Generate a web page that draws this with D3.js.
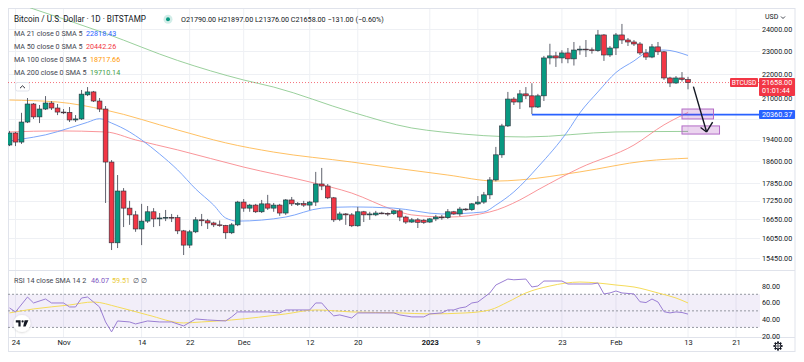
<!DOCTYPE html>
<html>
<head>
<meta charset="utf-8">
<script src="https://cdn.jsdelivr.net/npm/d3@7"></script>
<style>
    body { margin: 0; background: #fff; }
    svg { display: block; font-family: Roboto, "Noto Sans", sans-serif; }
</style>
</head>
<body>
<svg id="chart" width="804" height="362"></svg>
<script>
// daily candles, Oct 23 2022 .. Feb 13 2023 (BITSTAMP BTCUSD)
var firstDay = "2022-10-23",
    lastDay = "2023-02-13";

var opens = [19200,19650,19310,20070,20780,20270,20580,20820,20620,20460,20450,20150,20190,21150,21270,20900,20580,18580,15900,17570,
    17000,16780,16330,16580,16880,16650,16680,16700,16690,16270,15830,16240,16620,16590,16520,16460,16440,16210,16460,17200,
    17000,17100,16880,17140,17000,17100,16840,17270,17140,17150,17100,17200,17810,17740,17340,16640,16810,16780,16430,16880,
    16780,16780,16840,16830,16820,16910,16710,16550,16620,16610,16550,16650,16710,16690,16880,16810,16970,16950,17140,17200,
    17440,17950,18840,19920,20980,20860,21190,21110,20660,21110,22710,22800,22710,22930,22670,23060,23100,23070,23030,23740,
    22840,23150,23740,23510,23420,23330,22930,22750,23200,22980,21850,21640,21850,21790];
var highs = [19730,19690,20430,21020,20820,20740,21100,20900,20780,20580,20660,20340,21350,21470,21310,21020,20700,18650,18120,17670,
    17240,16910,17140,17070,17000,16840,16940,16810,16780,16300,16300,16710,16810,16650,16560,16600,16460,16520,17240,17300,
    17140,17140,17270,17440,17170,17140,17300,17370,17200,17240,17240,18230,18370,17810,17370,16880,16840,16840,17040,16910,
    16880,16910,16880,16860,16940,16970,16750,16680,16680,16650,16680,16780,16780,16970,16910,17040,17000,17170,17400,17540,
    18050,19130,20000,21270,21060,21350,21470,21630,21190,22800,23340,22980,23050,23150,23420,23250,23510,23170,23970,23780,
    23240,23830,24250,23600,23510,23420,23100,23330,23420,23020,21900,21930,22100,21897];
var lows = [19160,19160,19240,20030,20190,20030,20540,20540,20340,20380,20070,20070,20150,21100,20860,20460,17170,15680,15740,16390,
    16460,16240,15830,16520,16390,16420,16580,16550,16170,15530,15740,16200,16420,16330,16390,16400,16020,16170,16420,16880,
    16880,16840,16840,16940,16880,16750,16780,17070,17070,17040,16940,17070,17600,17300,16550,16580,16460,16390,16400,16550,
    16620,16740,16800,16740,16780,16580,16490,16520,16360,16490,16520,16580,16620,16650,16780,16740,16910,16910,17100,17140,
    17300,17900,18730,19880,20740,20580,20980,20380,20620,20900,22430,22320,22480,22480,22380,22850,22750,22900,22980,22580,
    22750,22840,23330,23240,23240,22840,22620,22700,22840,21770,21470,21600,21700,21376];
var closes = [19650,19310,20070,20780,20270,20580,20820,20620,20460,20450,20150,20190,21180,21270,20900,20580,18580,15900,17570,17000,
    16780,16330,16580,16880,16650,16680,16700,16690,16270,15830,16240,16620,16590,16520,16460,16440,16210,16460,17200,17000,
    17100,16880,17140,17000,17100,16840,17270,17140,17150,17100,17200,17810,17740,17340,16620,16810,16780,16430,16880,16780,
    16810,16840,16830,16820,16910,16710,16550,16620,16540,16540,16650,16710,16690,16880,16810,16970,16950,17140,17200,17440,
    17950,18840,19920,20980,20860,21190,21110,20660,21110,22710,22800,22710,22930,22670,23060,23100,23070,23030,23740,22840,
    23150,23740,23510,23420,23330,22930,22750,23200,22980,21850,21640,21850,21790,21658];

// moving averages (day index since Oct 23 -> value)
var ma21At = [0,2,6,10,13,15,17,20,22,25,28,31,34,36,38,46,52,57,64,72,79,81,84,88,93,95,98,101,104,106,109,113];
var ma21Vals = [19350,19420,19580,19840,20060,20200,20030,19690,19390,18870,18300,17640,17100,16680,16580,16710,17000,17040,17000,16810,
    16875,17100,17540,18400,19730,20430,21270,22080,22580,22930,23060,22818.43];
var ma50At = [0,8,16,21,28,39,50,57,64,67,73,80,85,88,95,104,109,113];
var ma50Vals = [19690,19730,19690,19390,19020,18400,17880,17500,16940,16780,16710,16875,17270,17610,18370,19200,19960,20442.26];
var ma100At = [0,8,16,28,36,44,57,64,73,81,85,95,106,113];
var ma100Vals = [20940,20860,20540,19765,19280,18940,18580,18370,18120,17910,17950,18230,18620,18717.66];
var ma200At = [0,4,10,16,28,39,44,57,67,72,86,101,113];
var ma200Vals = [25380,24960,24390,23810,22600,21765,21470,20460,19840,19690,19500,19690,19710.14];

// RSI 14 and its SMA 14
var rsiAt = [0,1,3,4,6,7,9,10,11,12,13,14,15,16,17,18,20,21,23,25,27,29,31,33,36,37,38,41,43,45,46,50,51,52,53,54,55,57,58,61,
    64,65,67,69,70,72,73,74,75,76,77,78,80,81,83,84,86,87,88,89,92,93,94,97,98,99,100,101,102,104,105,106,107,108,109,110,111,112,113];
var rsiVals = [53.5,48.7,66.7,59.5,64.3,59.5,59.5,54.7,54.7,65.5,66.7,60.7,54.7,36.6,24.6,37.8,36.6,34.2,37.8,36.6,
    36.6,31.8,40.2,39,37.8,42.7,48.7,48.7,48.7,47.5,51.1,51.1,59.5,59.5,51.1,43.9,45.1,41.4,47.5,47.5,
    47.5,45.1,42.7,42.7,46.3,47.5,51.1,51.1,53.5,54.7,59.5,60.7,71.6,81.2,88.4,87.5,88.4,78.8,80,86,
    86,82.4,82.4,82.4,83.6,70.4,71.6,74,71.6,70.4,61,60,64.3,60.7,49,47.5,48.7,48,46.07];
var rsiMaAt = [0,4,10,14,18,23,29,32,37,46,51,57,65,70,76,80,83,86,90,95,98,101,104,108,111,113];
var rsiMaVals = [47.5,52.3,57.1,60.7,54.7,45.1,35.4,36.6,39,46.3,51.1,48.7,47.5,46.3,47.5,51.1,60.7,71.6,80,84.8,83.6,81.2,78.8,71.6,65.5,59.51];

// axes
var priceTicks = [24000,23000,22000,21000,19400,18600,17850,17250,16650,16050,15450];
var priceGrid = [24000,23000,22000,21000,20200,19400,18600,17850,17250,16650,16050,15450];
var rsiTicks = [80,60,40,20];
var rsiLevels = [70,50,30];
var timeTicks = ["2022-10-24","2022-11-01","2022-11-14","2022-11-22","2022-12-01","2022-12-12","2022-12-20",
    "2023-01-01","2023-01-09","2023-01-23","2023-02-01","2023-02-13","2023-02-21"];
var timeLabels = ["24","Nov","14","22","Dec","12","20","2023","9","23","Feb","13","21"];

// drawings
var lastPrice = 21658, hLinePrice = 20360.37, hLineFrom = 87;
var boxFrom = [112,112], boxTo = [117.25,118.25], boxTop = [20580,19920], boxBottom = [20190,19610];
var arrowAt = [113.9,116.1], arrowPrice = [21490,19690];
var wingAt = [115.1,117.1], wingPrice = [19860,20070];

(function() {
    var svg = d3.select("#chart");
    var plotL = 8, plotR = 760, mainT = 8, mainB = 270, rsiT = 271, rsiB = 337;
    var green = "#089981", red = "#F23645", text = "#131722", grid = "#EEF0F4";

    var day0 = d3.utcParse("%Y-%m-%d")(firstDay);
    function dayDate(i) { return new Date(day0.getTime() + i * 864e5); }

    var x = d3.scaleUtc()
        .domain([day0, d3.utcParse("%Y-%m-%d")(lastDay)])
        .range([9.5, 688]);
    var y = d3.scaleLog().domain([15450, 24000]).range([257.7, 29.3]);
    var ry = d3.scaleLinear().domain([20, 80]).range([335.7, 286]);

    var candles = closes.map(function(c, i) {
        return { date: dayDate(i), o: opens[i], h: highs[i], l: lows[i], c: c };
    });

    var defs = svg.append("defs");
    defs.append("clipPath").attr("id", "mainClip").append("rect")
        .attr("x", plotL).attr("y", mainT).attr("width", plotR - plotL).attr("height", mainB - mainT);
    defs.append("clipPath").attr("id", "rsiClip").append("rect")
        .attr("x", plotL).attr("y", rsiT).attr("width", plotR - plotL).attr("height", rsiB - rsiT);
    var shadow = defs.append("filter").attr("id", "shadow").attr("x", "-50%").attr("y", "-50%")
        .attr("width", "200%").attr("height", "200%");
    shadow.append("feDropShadow").attr("dx", 0).attr("dy", 0.5).attr("stdDeviation", 1)
        .attr("flood-color", "#000").attr("flood-opacity", 0.2);

    // grid
    var tickDates = timeTicks.map(d3.utcParse("%Y-%m-%d"));
    svg.append("g").selectAll("line").data(tickDates).join("line")
        .attr("x1", d => x(d)).attr("x2", d => x(d))
        .attr("y1", mainT).attr("y2", rsiB)
        .attr("stroke", grid);
    svg.append("g").selectAll("line").data(priceGrid).join("line")
        .attr("x1", plotL).attr("x2", plotR)
        .attr("y1", d => Math.round(y(d)) + 0.5).attr("y2", d => Math.round(y(d)) + 0.5)
        .attr("stroke", grid);

    // frame and pane separators
    svg.append("rect").attr("x", 8.5).attr("y", 8.5).attr("width", 786.5).attr("height", 343)
        .attr("fill", "none").attr("stroke", "#E0E3EB");
    svg.append("line").attr("x1", 8).attr("x2", 795).attr("y1", 270.5).attr("y2", 270.5).attr("stroke", "#E0E3EB");
    svg.append("line").attr("x1", 8).attr("x2", 795).attr("y1", 337.5).attr("y2", 337.5).attr("stroke", "#E0E3EB");

    var main = svg.append("g").attr("clip-path", "url(#mainClip)");

    // moving averages
    var maLine = d3.line().curve(d3.curveMonotoneX).x(d => x(d[0])).y(d => y(d[1]));
    function pairs(at, vals) { return at.map((a, i) => [dayDate(a), vals[i]]); }
    [[ma200At, ma200Vals, "#8FCB91"], [ma100At, ma100Vals, "#FFB951"], [ma50At, ma50Vals, "#F8898E"], [ma21At, ma21Vals, "#6F9CF8"]]
        .forEach(function(s) {
            main.append("path").datum(pairs(s[0], s[1]))
                .attr("d", maLine).attr("fill", "none")
                .attr("stroke", s[2]).attr("stroke-width", 1).attr("stroke-opacity", 0.9);
        });

    // last price line
    main.append("line").attr("x1", plotL).attr("x2", plotR)
        .attr("y1", y(lastPrice)).attr("y2", y(lastPrice))
        .attr("stroke", red).attr("stroke-dasharray", "1,2").attr("stroke-opacity", 0.7);

    // candles
    main.append("g").selectAll("line").data(candles).join("line")
        .attr("x1", d => x(d.date)).attr("x2", d => x(d.date))
        .attr("y1", d => y(d.h)).attr("y2", d => y(d.l))
        .attr("stroke", "#60636e").attr("stroke-width", 1);
    main.append("g").selectAll("rect").data(candles).join("rect")
        .attr("x", d => x(d.date) - 2.4)
        .attr("width", 4.8)
        .attr("y", d => y(Math.max(d.o, d.c)))
        .attr("height", d => Math.max(0.8, Math.abs(y(d.o) - y(d.c))))
        .attr("fill", d => d.c >= d.o ? green : red)
        .attr("stroke", "#2a2e39").attr("stroke-width", 0.6);

    // horizontal level line
    main.append("line").attr("x1", x(dayDate(hLineFrom))).attr("x2", plotR)
        .attr("y1", y(hLinePrice)).attr("y2", y(hLinePrice))
        .attr("stroke", "#2962FF").attr("stroke-width", 1.6);

    // target boxes
    main.append("g").selectAll("rect").data(boxFrom).join("rect")
        .attr("x", (d, i) => x(dayDate(d)))
        .attr("width", (d, i) => x(dayDate(boxTo[i])) - x(dayDate(d)))
        .attr("y", (d, i) => y(boxTop[i]))
        .attr("height", (d, i) => y(boxBottom[i]) - y(boxTop[i]))
        .attr("fill", "rgba(156,39,176,0.2)").attr("stroke", "#B36BC6").attr("stroke-width", 1);

    // arrow
    var tip = [x(dayDate(arrowAt[1])), y(arrowPrice[1])];
    main.append("line").attr("x1", x(dayDate(arrowAt[0]))).attr("y1", y(arrowPrice[0]))
        .attr("x2", tip[0]).attr("y2", tip[1]).attr("stroke", "#131722").attr("stroke-width", 1.4);
    wingAt.forEach(function(w, i) {
        main.append("line").attr("x1", x(dayDate(w))).attr("y1", y(wingPrice[i]))
            .attr("x2", tip[0]).attr("y2", tip[1]).attr("stroke", "#131722").attr("stroke-width", 1.4);
    });

    // RSI pane
    var rsi = svg.append("g").attr("clip-path", "url(#rsiClip)");
    rsi.append("rect").attr("x", plotL).attr("width", plotR - plotL)
        .attr("y", ry(70)).attr("height", ry(30) - ry(70))
        .attr("fill", "rgba(126,87,194,0.1)");
    rsi.selectAll("line.level").data(rsiLevels).join("line")
        .attr("class", "level")
        .attr("x1", plotL).attr("x2", plotR)
        .attr("y1", d => ry(d)).attr("y2", d => ry(d))
        .attr("stroke", "#9598A1").attr("stroke-dasharray", "2,2");
    rsi.append("path").datum(pairs(rsiMaAt, rsiMaVals))
        .attr("d", d3.line().curve(d3.curveMonotoneX).x(d => x(d[0])).y(d => ry(d[1]))).attr("fill", "none")
        .attr("stroke", "#F5DC5A").attr("stroke-width", 1);
    rsi.append("path").datum(pairs(rsiAt, rsiVals))
        .attr("d", d3.line().x(d => x(d[0])).y(d => ry(d[1]))).attr("fill", "none")
        .attr("stroke", "#9B7FD4").attr("stroke-width", 1);

    // price axis
    var yAxis = svg.append("g").attr("transform", "translate(762,0)")
        .call(d3.axisRight(y).tickValues(priceTicks).tickFormat(d3.format(".2f")).tickSize(0).tickPadding(0));
    var rAxis = svg.append("g").attr("transform", "translate(762,0)")
        .call(d3.axisRight(ry).tickValues(rsiTicks).tickFormat(d3.format(".2f")).tickSize(0).tickPadding(0));
    [yAxis, rAxis].forEach(function(a) {
        a.select(".domain").remove();
        a.selectAll("text").attr("fill", text).attr("font-size", 7.2).attr("font-family", "Roboto");
    });

    // time axis
    var xAxis = svg.append("g").attr("transform", "translate(0,340)")
        .call(d3.axisBottom(x).tickValues(tickDates).tickFormat((d, i) => timeLabels[i]).tickSize(0).tickPadding(0));
    xAxis.select(".domain").remove();
    xAxis.selectAll("text").attr("fill", text).attr("font-size", 7.5).attr("font-family", "Roboto")
        .attr("font-weight", (d, i) => timeLabels[i] === "2023" ? "bold" : null);

    // price labels on the axis
    var ly = y(lastPrice);
    svg.append("rect").attr("x", 730).attr("y", ly - 4.5).attr("width", 28).attr("height", 9).attr("rx", 1).attr("fill", red);
    svg.append("text").attr("x", 744).attr("y", ly + 2.4).attr("text-anchor", "middle")
        .attr("font-size", 6.6).attr("fill", "#fff").text("BTCUSD");
    svg.append("rect").attr("x", 759).attr("y", ly - 4.5).attr("width", 36).attr("height", 18).attr("rx", 1).attr("fill", red);
    svg.append("text").attr("x", 762).attr("y", ly + 2.5).attr("font-size", 7.2).attr("fill", "#fff").text(d3.format(".2f")(lastPrice));
    svg.append("text").attr("x", 762).attr("y", ly + 10.5).attr("font-size", 7.2).attr("fill", "#fff").text("01:01:44");
    var hy = y(hLinePrice);
    svg.append("rect").attr("x", 759).attr("y", hy - 4.5).attr("width", 36).attr("height", 9).attr("rx", 1).attr("fill", "#2962FF");
    svg.append("text").attr("x", 762).attr("y", hy + 2.5).attr("font-size", 7.2).attr("fill", "#fff").text(d3.format(".2f")(hLinePrice));

    svg.append("text").attr("x", 765).attr("y", 19).attr("font-size", 7).attr("fill", text).text("USD");
    svg.append("path").attr("d", "M781,16.5 l2,2 l2,-2").attr("fill", "none").attr("stroke", text).attr("stroke-width", 0.8);

    // legend
    var legend = svg.append("g").attr("font-family", "Roboto");
    legend.append("text").attr("x", 14).attr("y", 22).attr("font-size", 8.2).attr("fill", text)
        .text("Bitcoin / U.S. Dollar · 1D · BITSTAMP");
    legend.append("circle").attr("cx", 168).attr("cy", 19.3).attr("r", 4.5).attr("fill", "rgba(8,153,129,0.18)");
    legend.append("circle").attr("cx", 168).attr("cy", 19.3).attr("r", 2).attr("fill", green);
    legend.append("text").attr("x", 181).attr("y", 22).attr("font-size", 7.2).attr("fill", text)
        .text("O21790.00 H21897.00 L21376.00 C21658.00 −131.00 (−0.60%)");

    var maRows = [
        ["MA 21 close 0 SMA 5", "22818.43", "#2962FF", 86],
        ["MA 50 close 0 SMA 5", "20442.26", "#F23645", 86],
        ["MA 100 close 0 SMA 5", "18717.66", "#FF9800", 90],
        ["MA 200 close 0 SMA 5", "19710.14", "#43A047", 90]
    ];
    maRows.forEach(function(r, i) {
        var ty = 35.8 + i * 12.9;
        legend.append("text").attr("x", 14).attr("y", ty).attr("font-size", 7.2).attr("fill", "#434651").text(r[0]);
        legend.append("text").attr("x", r[3]).attr("y", ty).attr("font-size", 7.2).attr("fill", r[2]).text(r[1]);
    });

    // collapse button
    svg.append("rect").attr("x", 15.5).attr("y", 82.5).attr("width", 14).attr("height", 8.5).attr("rx", 2)
        .attr("fill", "#fff").attr("stroke", "#E0E3EB");
    svg.append("path").attr("d", "M20,88.2 l2.5,-2.4 l2.5,2.4").attr("fill", "none").attr("stroke", text).attr("stroke-width", 0.9);

    // RSI legend
    var rl = svg.append("text").attr("x", 14).attr("y", 282.5).attr("font-size", 7.2).attr("font-family", "Roboto");
    rl.append("tspan").attr("fill", "#434651").text("RSI 14 close SMA 14 2 ");
    rl.append("tspan").attr("fill", "#7E57C2").attr("dx", 3).text("46.07");
    rl.append("tspan").attr("fill", "#E9C830").attr("dx", 3).text("59.51");
    rl.append("tspan").attr("fill", "#434651").attr("dx", 3).text("∅ ∅");

    // TradingView badge
    svg.append("circle").attr("cx", 22).attr("cy", 323.5).attr("r", 8.5)
        .attr("fill", "#fff").attr("filter", "url(#shadow)");
    svg.append("path").attr("d", "M15.8,320.3 H20.6 V326.6 H18.4 V322.4 H15.8 Z M24.6,320.3 H28.4 L25.6,326.6 H23.2 Z")
        .attr("fill", text);
    svg.append("circle").attr("cx", 22.6).attr("cy", 321.4).attr("r", 1.1).attr("fill", text);

    // settings gear
    var gear = svg.append("g").attr("transform", "translate(778,346)");
    gear.selectAll("rect").data(d3.range(8)).join("rect")
        .attr("x", -0.9).attr("y", -4.6).attr("width", 1.8).attr("height", 2)
        .attr("transform", d => "rotate(" + d * 45 + ")").attr("fill", text);
    gear.append("circle").attr("r", 3).attr("fill", "none").attr("stroke", text).attr("stroke-width", 1);
    gear.append("circle").attr("r", 1.2).attr("fill", "none").attr("stroke", text).attr("stroke-width", 0.8);
})();
</script>
</body>
</html>
